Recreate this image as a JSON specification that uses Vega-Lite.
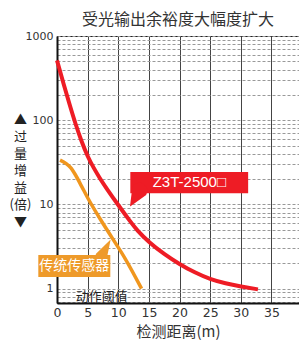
{
  "$schema": "https://vega.github.io/schema/vega-lite/v6.json",
  "width": 242,
  "height": 267,
  "autosize": {"type": "none"},
  "padding": {"left": 57, "top": 36, "right": 0, "bottom": 37},
  "background": "white",
  "config": {"view": {"stroke": "#222", "strokeWidth": 1}},
  "title": {"text": "受光输出余裕度大幅度扩大", "font": "Noto Sans CJK SC", "fontSize": 16, "fontWeight": "normal", "color": "#333", "anchor": "middle", "offset": 2},
  "datasets": {
    "red": [
      {"d": 0, "g": 513}, {"d": 1, "g": 282}, {"d": 2, "g": 158}, {"d": 3, "g": 91},
      {"d": 4, "g": 56}, {"d": 5, "g": 37}, {"d": 6, "g": 27}, {"d": 7, "g": 20.4},
      {"d": 8, "g": 15.8}, {"d": 10, "g": 9.8}, {"d": 12, "g": 6.2}, {"d": 13, "g": 5.0},
      {"d": 15, "g": 3.55}, {"d": 17.5, "g": 2.57}, {"d": 20, "g": 1.95}, {"d": 22.5, "g": 1.55},
      {"d": 25, "g": 1.29}, {"d": 27.5, "g": 1.15}, {"d": 30, "g": 1.06}, {"d": 32.8, "g": 0.98}
    ],
    "orange": [
      {"d": 0.5, "g": 33.5}, {"d": 1.5, "g": 30.5}, {"d": 2.3, "g": 27}, {"d": 3, "g": 22.5},
      {"d": 4, "g": 16.5}, {"d": 5, "g": 12}, {"d": 7, "g": 6.8}, {"d": 9, "g": 4},
      {"d": 11, "g": 2.35}, {"d": 13.8, "g": 1}
    ]
  },
  "layer": [
    {
      "data": {"name": "red"},
      "mark": {"type": "line", "color": "#EE1C25", "strokeWidth": 4, "interpolate": "basis", "strokeCap": "butt"},
      "encoding": {
        "x": {"field": "d", "type": "quantitative",
          "scale": {"domain": [0, 39.5], "nice": false, "zero": false},
          "axis": {"values": [0, 5, 10, 15, 20, 25, 30, 35], "tickCount": 40, "grid": true, "gridColor": "#444", "gridWidth": 1, "gridOpacity": 1,
            "domainColor": "#111", "domainWidth": 2, "ticks": false, "labelOverlap": false, "labelFlush": false, "labelBound": false,
            "labelFont": "DejaVu Sans", "labelFontSize": 12.5, "labelColor": "#333", "labelPadding": 3,
            "title": "检测距离(m)", "titleFont": "Noto Sans CJK SC", "titleFontSize": 15, "titleFontWeight": "normal", "titleColor": "#333", "titlePadding": 6}},
        "y": {"field": "g", "type": "quantitative",
          "scale": {"type": "log", "domain": [0.675, 1000], "nice": false},
          "axis": {"values": [0.7, 0.8, 0.9, 1, 2, 3, 4, 5, 6, 7, 8, 9, 10, 20, 30, 40, 50, 60, 70, 80, 90, 100, 200, 300, 400, 500, 600, 700, 800, 900, 1000],
            "labelExpr": "indexof([1,10,100,1000], datum.value) >= 0 ? format(datum.value, 'd') : ''",
            "labelOverlap": false, "labelFont": "DejaVu Sans", "labelFontSize": 11, "labelColor": "#333", "labelPadding": 4,
            "grid": true, "gridColor": "#999", "gridDash": [3, 2], "gridWidth": 1,
            "domainColor": "#111", "domainWidth": 2, "ticks": false,
            "title": ["▲", "过", "量", "增", "益", "(倍)", "▼"], "titleAngle": 0, "titleFont": "Noto Sans CJK SC", "titleFontSize": 13, "titleFontWeight": "normal",
            "titleColor": "#222", "titleLineHeight": 17, "titleAlign": "center", "titleBaseline": "top", "titleX": -37, "titleY": 77}}
      }
    },
    {
      "data": {"name": "orange"},
      "mark": {"type": "line", "color": "#F0961E", "strokeWidth": 3.5, "interpolate": "monotone"},
      "encoding": {
        "x": {"field": "d", "type": "quantitative"},
        "y": {"field": "g", "type": "quantitative"}
      }
    },
    {
      "data": {"values": [{"x1": 11.97, "x2": 31.2, "y1": 13.6, "y2": 24.2}]},
      "mark": {"type": "rect", "color": "#EE1C25"},
      "encoding": {
        "x": {"field": "x1", "type": "quantitative"}, "x2": {"field": "x2"},
        "y": {"field": "y1", "type": "quantitative"}, "y2": {"field": "y2"}
      }
    },
    {
      "data": {"values": [{"x": 13.43, "y": 14.5, "w": 16}, {"x": 11.96, "y": 9.55, "w": 0.5}]},
      "mark": {"type": "trail", "color": "#EE1C25"},
      "encoding": {
        "x": {"field": "x", "type": "quantitative"},
        "y": {"field": "y", "type": "quantitative"},
        "size": {"field": "w", "type": "quantitative", "scale": null}
      }
    },
    {
      "data": {"values": [{"x": 21.6, "y": 18.3, "t": "Z3T-2500□"}]},
      "mark": {"type": "text", "color": "white", "font": "Liberation Sans, DejaVu Sans", "fontSize": 15, "align": "center", "baseline": "middle"},
      "encoding": {
        "x": {"field": "x", "type": "quantitative"},
        "y": {"field": "y", "type": "quantitative"},
        "text": {"field": "t"}
      }
    },
    {
      "data": {"values": [{"x1": -3.05, "x2": 8.7, "y1": 1.37, "y2": 2.51}]},
      "mark": {"type": "rect", "color": "#EE9A2A"},
      "encoding": {
        "x": {"field": "x1", "type": "quantitative"}, "x2": {"field": "x2"},
        "y": {"field": "y1", "type": "quantitative"}, "y2": {"field": "y2"}
      }
    },
    {
      "data": {"values": [{"x": 7.23, "y": 2.4, "w": 12}, {"x": 8.7, "y": 3.77, "w": 0.5}]},
      "mark": {"type": "trail", "color": "#EE9A2A"},
      "encoding": {
        "x": {"field": "x", "type": "quantitative"},
        "y": {"field": "y", "type": "quantitative"},
        "size": {"field": "w", "type": "quantitative", "scale": null}
      }
    },
    {
      "data": {"values": [{"x": 2.8, "y": 1.84, "t": "传统传感器"}]},
      "mark": {"type": "text", "color": "white", "font": "Noto Sans CJK SC", "fontSize": 14, "align": "center", "baseline": "middle"},
      "encoding": {
        "x": {"field": "x", "type": "quantitative"},
        "y": {"field": "y", "type": "quantitative"},
        "text": {"field": "t"}
      }
    },
    {
      "data": {"values": [{"x": 7.3, "y": 0.8, "t": "动作阈值"}]},
      "mark": {"type": "text", "color": "#222", "font": "Noto Sans CJK SC", "fontSize": 13, "align": "center", "baseline": "middle"},
      "encoding": {
        "x": {"field": "x", "type": "quantitative"},
        "y": {"field": "y", "type": "quantitative"},
        "text": {"field": "t"}
      }
    }
  ]
}
